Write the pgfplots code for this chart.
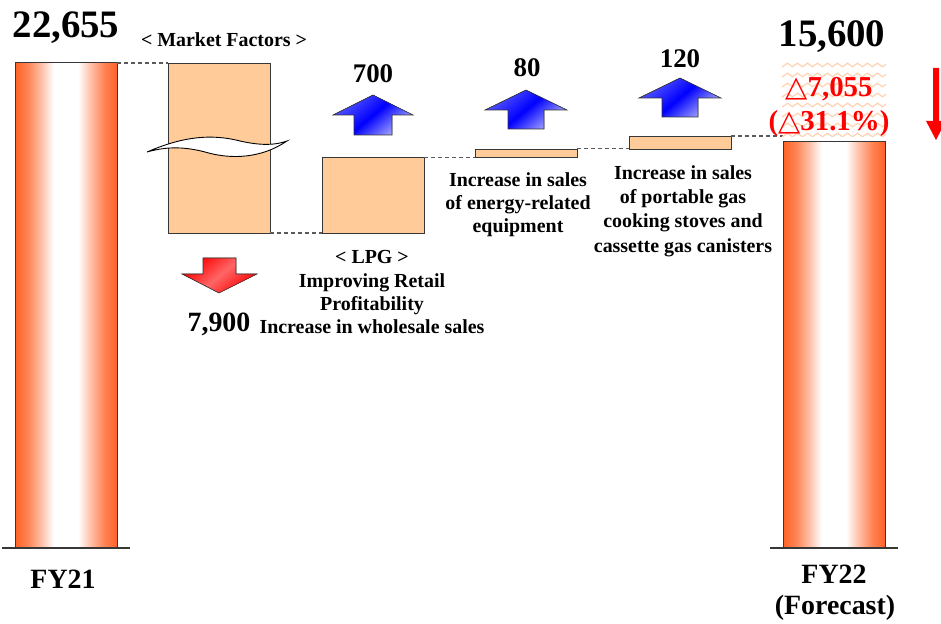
\documentclass[border=0pt]{standalone}
\usepackage{pgfplots}
\pgfplotsset{compat=1.18}
\usepackage{fontspec}
\setmainfont{Liberation Serif}
\newfontfamily\sym{DejaVu Sans}
\usetikzlibrary{decorations.pathmorphing}
\definecolor{peach}{RGB}{255,204,153}
\definecolor{fyor}{RGB}{255,98,38}
\definecolor{edgec}{RGB}{55,55,55}
\definecolor{dashc}{RGB}{90,90,90}
\definecolor{wavec}{RGB}{255,210,175}
\pgfdeclarehorizontalshading{fybar}{100bp}{color(0bp)=(fyor); color(25bp)=(fyor); color(31bp)=(fyor!80!white); color(38bp)=(fyor!40!white); color(44bp)=(white); color(56bp)=(white); color(62bp)=(fyor!40!white); color(69bp)=(fyor!80!white); color(75bp)=(fyor); color(100bp)=(fyor)}
\newcommand{\fs}[1]{\fontsize{#1}{#1}\selectfont\bfseries}
\makeatletter
\pgfplotsset{brokeny/.style={
  y coord trafo/.code={%
    \begingroup
    \pgfkeys{/pgf/fpu=true,/pgf/fpu/output format=fixed}%
    \pgfmathparse{0.021349*min(##1,14755)+0.10778*max(0,min(##1,15700)-14755)+0.0098*max(0,##1-15700)}%
    \pgfmath@smuggleone\pgfmathresult
    \endgroup}}}
\makeatother
\begin{document}
\begin{tikzpicture}
\useasboundingbox (0,0) rectangle (941bp,624bp);
\begin{axis}[
  at={(0,0)}, anchor=south west,
  width=941bp, height=624bp, scale only axis,
  brokeny,
  xmin=0, xmax=941,
  ymin=-3560, ymax=29083,
  hide axis, clip=false, no markers,
]
% FY21 total
\addplot[draw=edgec, line width=1pt, shading=fybar]
  coordinates {(15,0) (117,0) (117,22655) (15,22655)} --cycle;
% Market factors  -7,900
\addplot[draw=edgec, line width=0.8pt, fill=peach]
  coordinates {(168,14755) (270,14755) (270,22655) (168,22655)} --cycle;
% LPG +700
\addplot[draw=edgec, line width=0.8pt, fill=peach]
  coordinates {(322,14755) (424,14755) (424,15455) (322,15455)} --cycle;
% energy-related equipment +80
\addplot[draw=edgec, line width=0.8pt, fill=peach]
  coordinates {(475,15455) (577,15455) (577,15535) (475,15535)} --cycle;
% portable gas +120
\addplot[draw=edgec, line width=0.8pt, fill=peach]
  coordinates {(629,15535) (731,15535) (731,15655) (629,15655)} --cycle;
% FY22 forecast
\addplot[draw=edgec, line width=1pt, shading=fybar]
  coordinates {(783,0) (885,0) (885,15600) (783,15600)} --cycle;
% connectors
\addplot[color=dashc, dash pattern=on 4bp off 3bp, line width=1.1pt] coordinates {(117,22655) (168,22655)};
\addplot[color=dashc, dash pattern=on 4bp off 3bp, line width=1.1pt] coordinates {(270,14755) (322,14755)};
\addplot[color=dashc, dash pattern=on 4bp off 3bp, line width=1.1pt] coordinates {(424,15455) (475,15455)};
\addplot[color=dashc, dash pattern=on 4bp off 3bp, line width=1.1pt] coordinates {(577,15535) (629,15535)};
\addplot[color=dashc, dash pattern=on 4bp off 3bp, line width=1.1pt] coordinates {(731,15655) (783,15655)};
% base lines
\addplot[color=edgec, line width=1.6pt] coordinates {(2,0) (130,0)};
\addplot[color=edgec, line width=1.6pt] coordinates {(770,0) (898,0)};
\end{axis}
\begin{scope}[x=1bp, y=-1bp, shift={(0bp,624bp)}]
% break mark on market-factor bar
\filldraw[fill=white, draw=black, line width=0.9pt]
  (147,152) .. controls (175,140) and (205,132) .. (240,141)
  .. controls (262,146) and (276,145) .. (287,141)
  .. controls (262,158) and (232,160) .. (205,152)
  .. controls (182,146) and (165,147) .. (147,152) -- cycle;
% patterned box behind the difference
\begin{scope}
\clip (782,62) rectangle (886,137);
\foreach \yy in {65,75,...,135}
  \draw[wavec, line width=1.2pt, decorate, decoration={zigzag, segment length=10bp, amplitude=1.8bp}] (775,\yy) -- (895,\yy);
\end{scope}
% blue up arrows
\filldraw[draw=black!80, line width=0.6pt, top color=blue!65!white, bottom color=blue!30!white, middle color=blue, shading angle=40]
  (373,95) -- (413,115) -- (392,115) -- (392,135) -- (354,135) -- (354,115) -- (333,115) -- cycle;
\filldraw[draw=black!80, line width=0.6pt, top color=blue!65!white, bottom color=blue!30!white, middle color=blue, shading angle=40]
  (526,90) -- (567,110) -- (544,110) -- (544,129) -- (508,129) -- (508,110) -- (485,110) -- cycle;
\filldraw[draw=black!80, line width=0.6pt, top color=blue!65!white, bottom color=blue!30!white, middle color=blue, shading angle=40]
  (680,78) -- (721,98) -- (698,98) -- (698,117) -- (662,117) -- (662,98) -- (639,98) -- cycle;
% red down arrow
\filldraw[draw=black!80, line width=0.6pt, top color=red, bottom color=red, middle color=red!60!white, shading angle=40]
  (203,258) -- (236,258) -- (236,274) -- (257,274) -- (219,293) -- (182,274) -- (203,274) -- cycle;
% right red arrow
\fill[red] (933,68) -- (939,68) -- (939,121) -- (946,121) -- (936,140) -- (926,121) -- (933,121) -- cycle;
% texts
\node[anchor=base, font=\fs{39}] at (66,38) {22,655};
\node[anchor=base, font=\fs{39}] at (832,47) {15,600};
\node[anchor=base, font=\fs{20}] at (224,47) {< Market Factors >};
\node[anchor=base, font=\fs{27}] at (373,83) {700};
\node[anchor=base, font=\fs{27}] at (527,77) {80};
\node[anchor=base, font=\fs{27}] at (680,68) {120};
\node[anchor=base, font=\fs{28}] at (219,332) {7,900};
\node[anchor=base, font=\fs{20}] at (372,264) {< LPG >};
\node[anchor=base, font=\fs{20}] at (372,288) {Improving Retail};
\node[anchor=base, font=\fs{20}] at (372,311) {Profitability};
\node[anchor=base, font=\fs{20}] at (372,334) {Increase in wholesale sales};
\node[anchor=base, font=\fs{20}] at (518,187) {Increase in sales};
\node[anchor=base, font=\fs{20}] at (518,210) {of energy-related};
\node[anchor=base, font=\fs{20}] at (518,233) {equipment};
\node[anchor=base, font=\fs{20}] at (683,180) {Increase in sales};
\node[anchor=base, font=\fs{20}] at (683,204) {of portable gas};
\node[anchor=base, font=\fs{20}] at (683,228) {cooking stoves and};
\node[anchor=base, font=\fs{20}] at (683,253) {cassette gas canisters};
\node[anchor=base, text=red, font=\fs{29}] at (829,97) {{\sym\mdseries\fontsize{29}{29}\selectfont △}7,055};
\node[anchor=base, text=red, font=\fs{29}] at (829,131) {({\sym\mdseries\fontsize{29}{29}\selectfont △}31.1\%)};
\node[anchor=base, font=\fs{28}] at (63,589) {FY21};
\node[anchor=base, font=\fs{28}] at (834,584) {FY22};
\node[anchor=base, font=\fs{28}] at (835,615) {(Forecast)};
\end{scope}
\end{tikzpicture}
\end{document}
